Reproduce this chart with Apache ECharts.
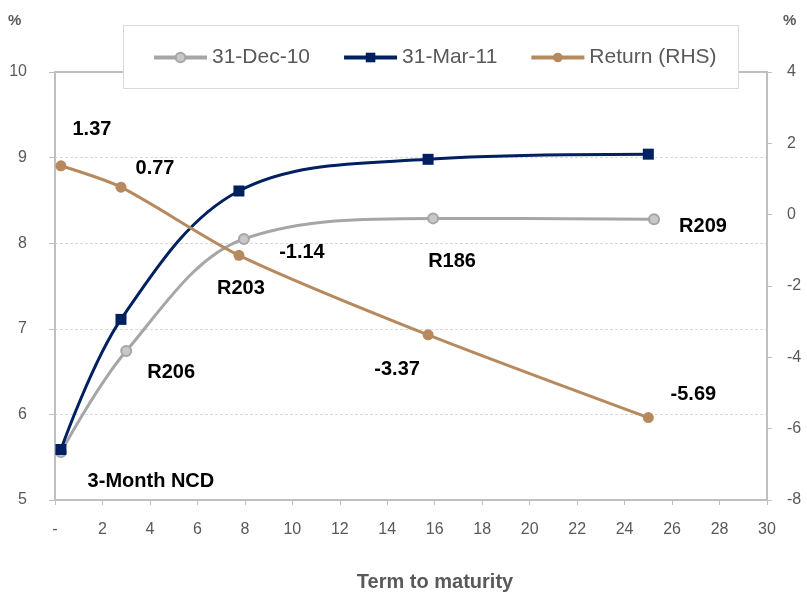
<!DOCTYPE html>
<html>
<head>
<meta charset="utf-8">
<script src="https://cdn.jsdelivr.net/npm/echarts@6/dist/echarts.min.js"></script>
<style>
  html, body { margin: 0; padding: 0; background: #fff; }
  #chart { width: 807px; height: 599px; }
</style>
</head>
<body>
<div id="chart"></div>
<script>
// ---- Data ----
const seriesNames = ['31-Dec-10', '31-Mar-11', 'Return (RHS)'];
const bondNames = ['3-Month NCD', 'R206', 'R203', 'R186', 'R209'];
// Term to maturity (years) and yields (%) at 31-Dec-10
const decTerm = [0.25, 3.0, 7.96, 15.93, 25.24];
const decYield = [5.56, 6.74, 8.05, 8.29, 8.28];
// Term to maturity (years) and yields (%) at 31-Mar-11
const marTerm = [0.25, 2.78, 7.75, 15.72, 25.0];
const marYield = [5.59, 7.11, 8.61, 8.98, 9.04];
// Return (%), right-hand scale, plotted at the 31-Mar-11 terms
const returnPct = [1.37, 0.77, -1.14, -3.37, -5.69];
// Axis scales
const xMin = 0, xMax = 30, xStep = 2;
const yLeftMin = 5, yLeftMax = 10, yLeftStep = 1;
const yRightMin = -8, yRightMax = 4, yRightStep = 2;

// ---- Styling (label placement offsets in px, not data) ----
const bondLabelOffsets = [[90, 29], [45, 21], [-3, 50], [19, 43], [49, 7]];
const returnLabelOffsets = [[31, -36], [34, -19], [63, -3], [-31, 35], [45, -23]];

const FONT = '"Liberation Sans", Arial, Helvetica, sans-serif';
const AXIS_GREY = '#bfbfbf';
const TEXT_GREY = '#595959';
const C_DEC = '#a6a6a6';
const C_MAR = '#002060';
const C_RET = '#b68a5e';

const labelBase = {
  show: true,
  position: 'inside',
  color: '#000',
  fontFamily: FONT,
  fontWeight: 'bold',
  fontSize: 20
};

const decData = decTerm.map((t, i) => ({
  value: [t, decYield[i]],
  label: Object.assign({}, labelBase, { formatter: bondNames[i], offset: bondLabelOffsets[i] })
}));
const marData = marTerm.map((t, i) => [t, marYield[i]]);
const retData = marTerm.map((t, i) => ({
  value: [t, returnPct[i]],
  label: Object.assign({}, labelBase, { formatter: returnPct[i].toFixed(2), offset: returnLabelOffsets[i] })
}));

const chart = echarts.init(document.getElementById('chart'), null, { renderer: 'canvas' });

const option = {
  animation: false,
  backgroundColor: '#fff',
  textStyle: { fontFamily: FONT },
  grid: { left: 55, right: 40, top: 72, bottom: 99, containLabel: false, outerBoundsMode: 'none' },
  legend: {
    data: seriesNames,
    left: 152,
    top: 47,
    padding: 0,
    itemGap: 32,
    itemWidth: 53,
    itemHeight: 12,
    lineStyle: { width: 4 },
    textStyle: { color: TEXT_GREY, fontSize: 21, fontFamily: FONT }
  },
  graphic: [
    {
      type: 'rect',
      z: 3,
      shape: { x: 123.5, y: 25.5, width: 615, height: 63 },
      style: { fill: '#fff', stroke: '#d9d9d9', lineWidth: 1 }
    },
    {
      type: 'text',
      left: 8, top: 13,
      style: { text: '%', fill: TEXT_GREY, font: 'bold 15px ' + FONT }
    },
    {
      type: 'text',
      left: 783, top: 13,
      style: { text: '%', fill: TEXT_GREY, font: 'bold 15px ' + FONT }
    }
  ],
  xAxis: [
    {
      type: 'value',
      position: 'bottom',
      min: xMin, max: xMax, interval: xStep,
      name: 'Term to maturity',
      nameLocation: 'middle',
      nameGap: 72,
      nameTextStyle: { color: TEXT_GREY, fontSize: 20, fontWeight: 'bold', fontFamily: FONT, padding: [0, 0, 0, 48] },
      axisLine: { show: true, onZero: false, lineStyle: { color: AXIS_GREY, width: 2 } },
      axisTick: { show: true, length: 5, lineStyle: { color: AXIS_GREY, width: 1 } },
      axisLabel: {
        color: TEXT_GREY, fontSize: 16, margin: 22, fontFamily: FONT,
        formatter: v => (v === 0 ? '-' : String(v))
      },
      splitLine: { show: false }
    },
    {
      type: 'value',
      position: 'top',
      min: xMin, max: xMax, interval: xStep,
      axisLine: { show: true, onZero: false, lineStyle: { color: AXIS_GREY, width: 2 } },
      axisTick: { show: false },
      axisLabel: { show: false },
      splitLine: { show: false }
    }
  ],
  yAxis: [
    {
      type: 'value',
      position: 'left',
      min: yLeftMin, max: yLeftMax, interval: yLeftStep,
      axisLine: { show: true, onZero: false, lineStyle: { color: AXIS_GREY, width: 2 } },
      axisTick: { show: true, length: 6, lineStyle: { color: AXIS_GREY, width: 1 } },
      axisLabel: { color: TEXT_GREY, fontSize: 16, margin: 28, fontFamily: FONT },
      splitLine: { show: true, lineStyle: { color: '#d9d9d9', width: 1, type: [3, 2] } }
    },
    {
      type: 'value',
      position: 'right',
      min: yRightMin, max: yRightMax, interval: yRightStep,
      axisLine: { show: true, onZero: false, lineStyle: { color: AXIS_GREY, width: 2 } },
      axisTick: { show: true, length: 5, lineStyle: { color: AXIS_GREY, width: 1 } },
      axisLabel: { color: TEXT_GREY, fontSize: 16, margin: 20, fontFamily: FONT },
      splitLine: { show: false }
    }
  ],
  series: [
    {
      name: seriesNames[0],
      type: 'line',
      xAxisIndex: 0, yAxisIndex: 0,
      smooth: 0.35,
      symbol: 'circle',
      symbolSize: 10,
      lineStyle: { color: C_DEC, width: 3 },
      itemStyle: { color: '#c8c8c8', borderColor: C_DEC, borderWidth: 2 },
      data: decData
    },
    {
      name: seriesNames[1],
      type: 'line',
      xAxisIndex: 0, yAxisIndex: 0,
      smooth: 0.35,
      symbol: 'rect',
      symbolSize: 11,
      lineStyle: { color: C_MAR, width: 3 },
      itemStyle: { color: C_MAR },
      data: marData
    },
    {
      name: seriesNames[2],
      type: 'line',
      xAxisIndex: 0, yAxisIndex: 1,
      smooth: 0.25,
      symbol: 'circle',
      symbolSize: 11,
      lineStyle: { color: C_RET, width: 3 },
      itemStyle: { color: C_RET },
      data: retData
    }
  ]
};

chart.setOption(option);
</script>
</body>
</html>
